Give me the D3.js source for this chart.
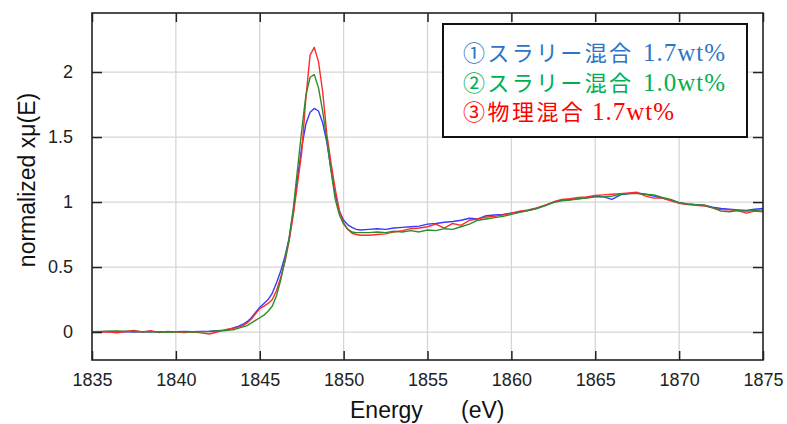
<!DOCTYPE html>
<html>
  <head>
    <meta charset="utf-8">
    <title>normalized xμ(E)</title>
    <script src="https://cdn.jsdelivr.net/npm/d3@7"></script>
    <style>
      body { margin: 0; background: #fff; }
      svg { display: block; }
      .tick text { font-family: "Liberation Sans", Arial, sans-serif; }
    </style>
  </head>

  <body>
    <svg id="chart" width="787" height="424"></svg>

    <script>
      // data
      const energy = [
        1835, 1835.5, 1836, 1836.5, 1837, 1837.5, 1838, 1838.5, 1839, 1839.5, 1840, 1840.5, 1841, 1841.5, 1842, 1842.5, 1843,
        1843.25, 1843.5, 1843.75, 1844, 1844.25, 1844.5, 1844.75, 1845, 1845.25, 1845.5, 1845.75, 1846, 1846.25, 1846.5, 1846.75, 1847,
        1847.25, 1847.5, 1847.75, 1848, 1848.25, 1848.5, 1848.75, 1849, 1849.25, 1849.5, 1849.75, 1850, 1850.25, 1850.5, 1850.75, 1851,
        1851.5, 1852, 1852.5, 1853, 1853.5, 1854, 1854.5, 1855, 1855.5, 1856, 1856.5, 1857, 1857.5, 1858, 1858.5, 1859,
        1859.5, 1860, 1860.5, 1861, 1861.5, 1862, 1862.5, 1863, 1863.5, 1864, 1864.5, 1865, 1865.5, 1866, 1866.5, 1867,
        1867.5, 1868, 1868.5, 1869, 1869.5, 1870, 1870.5, 1871, 1871.5, 1872, 1872.5, 1873, 1873.5, 1874, 1874.5, 1875
      ];
      const slurry17 = [
        0, 0.003, 0.005, 0.002, 0.004, 0, 0.003, 0.001, 0.002, 0, 0.003, 0.004, 0.002, 0.005, 0.006, 0.01, 0.015,
        0.025, 0.035, 0.045, 0.06, 0.08, 0.11, 0.15, 0.19, 0.22, 0.25, 0.30, 0.38, 0.47, 0.58, 0.72, 0.93,
        1.18, 1.42, 1.60, 1.69, 1.72, 1.70, 1.61, 1.46, 1.25, 1.06, 0.93, 0.86, 0.825, 0.805, 0.79, 0.785,
        0.79, 0.795, 0.79, 0.80, 0.805, 0.81, 0.815, 0.83, 0.835, 0.845, 0.85, 0.86, 0.875, 0.87, 0.895, 0.90,
        0.905, 0.915, 0.925, 0.935, 0.95, 0.975, 1.0, 1.015, 1.02, 1.025, 1.035, 1.045, 1.04, 1.02, 1.055, 1.065,
        1.07, 1.06, 1.045, 1.03, 1.015, 0.995, 0.985, 0.98, 0.975, 0.96, 0.95, 0.945, 0.94, 0.935, 0.945, 0.95
      ];
      const slurry10 = [
        0.002, 0.005, 0.006, 0.008, 0.005, 0.004, 0.002, 0.003, 0, -0.002, 0.002, 0.001, 0, 0.002, 0.004, 0.008, 0.012,
        0.015, 0.02, 0.03, 0.04, 0.05, 0.07, 0.09, 0.11, 0.13, 0.16, 0.20, 0.28, 0.40, 0.55, 0.72, 0.95,
        1.25, 1.55, 1.82, 1.96, 1.98, 1.88, 1.70, 1.48, 1.24, 1.02, 0.90, 0.83, 0.79, 0.77, 0.765, 0.765,
        0.765, 0.77, 0.765, 0.775, 0.77, 0.78, 0.77, 0.785, 0.78, 0.795, 0.79, 0.81, 0.83, 0.86, 0.87, 0.88,
        0.89, 0.905, 0.92, 0.935, 0.95, 0.97, 0.995, 1.01, 1.015, 1.025, 1.03, 1.04, 1.04, 1.045, 1.06, 1.065,
        1.065, 1.06, 1.055, 1.035, 1.02, 0.995, 0.985, 0.98, 0.975, 0.955, 0.93, 0.925, 0.935, 0.93, 0.935, 0.94
      ];
      const physical17 = [
        0, 0.002, 0, -0.005, 0.004, 0.012, 0, 0.011, -0.004, 0.004, 0, -0.003, 0.002, -0.006, -0.015, 0.002, 0.02,
        0.025, 0.03, 0.04, 0.05, 0.07, 0.10, 0.14, 0.18, 0.20, 0.22, 0.25, 0.32, 0.42, 0.54, 0.70, 0.90,
        1.14, 1.38, 1.80, 2.13, 2.19, 2.08, 1.85, 1.52, 1.30, 1.10, 0.93, 0.84, 0.79, 0.76, 0.75, 0.745,
        0.745, 0.75, 0.755, 0.77, 0.78, 0.795, 0.80, 0.81, 0.83, 0.80, 0.835, 0.82, 0.86, 0.87, 0.885, 0.89,
        0.90, 0.915, 0.93, 0.94, 0.955, 0.975, 1.0, 1.02, 1.025, 1.035, 1.04, 1.05, 1.055, 1.06, 1.065, 1.07,
        1.075, 1.045, 1.03, 1.03, 1.01, 0.99, 0.98, 0.975, 0.97, 0.955, 0.94, 0.94, 0.935, 0.915, 0.93, 0.925
      ];
      const legendNames = ["①スラリー混合", "②スラリー混合", "③物理混合"];
      const legendAmounts = ["1.7wt%", "1.0wt%", "1.7wt%"];
      const xTicks = [1835, 1840, 1845, 1850, 1855, 1860, 1865, 1870, 1875];
      const yTicks = [0, 0.5, 1, 1.5, 2];

      // layout
      const svg = d3.select("#chart");
      const plotLeft = 92, plotRight = 763, plotTop = 13, plotBottom = 360;

      const x = d3.scaleLinear().domain([1835, 1875]).range([plotLeft, plotRight]);
      const y = d3.scaleLinear().domain([-0.215, 2.454]).range([plotBottom, plotTop]);

      // grid
      svg.append("g")
        .selectAll("line")
        .data(xTicks.slice(1, -1))
        .join("line")
          .attr("x1", d => x(d)).attr("x2", d => x(d))
          .attr("y1", plotTop).attr("y2", plotBottom)
          .style("stroke", "#d6d6d6").style("stroke-width", 1.3);
      svg.append("g")
        .selectAll("line")
        .data(yTicks)
        .join("line")
          .attr("x1", plotLeft).attr("x2", plotRight)
          .attr("y1", d => y(d)).attr("y2", d => y(d))
          .style("stroke", "#d6d6d6").style("stroke-width", 1.3);

      // curves
      const line = d3.line()
        .x((d, i) => x(energy[i]))
        .y(d => y(d));
      const series = [
        { values: slurry17, colour: "#3a3aff" },
        { values: physical17, colour: "#ff2b2b" },
        { values: slurry10, colour: "#2e8b2e" }
      ];
      svg.append("g")
        .selectAll("path")
        .data(series)
        .join("path")
          .attr("d", d => line(d.values))
          .style("fill", "none")
          .style("stroke", d => d.colour)
          .style("stroke-width", 1.4)
          .style("stroke-linejoin", "round");

      // axes: ticks point inwards on every side
      const tickStyle = g => {
        g.select(".domain").remove();
        g.selectAll(".tick line").style("stroke", "#222").style("stroke-width", 1.5);
        g.selectAll(".tick text").style("fill", "#222").style("font-size", "18px");
      };
      svg.append("g")
        .attr("transform", "translate(0," + plotBottom + ")")
        .call(d3.axisBottom(x).tickValues(xTicks).tickFormat(d3.format("d")).tickSizeInner(-9).tickPadding(13))
        .call(tickStyle);
      svg.append("g")
        .attr("transform", "translate(0," + plotTop + ")")
        .call(d3.axisTop(x).tickValues(xTicks).tickFormat("").tickSizeInner(-9))
        .call(tickStyle);
      svg.append("g")
        .attr("transform", "translate(" + plotLeft + ",0)")
        .call(d3.axisLeft(y).tickValues(yTicks).tickFormat(d3.format("")).tickSizeInner(-10).tickPadding(19))
        .call(tickStyle);
      svg.append("g")
        .attr("transform", "translate(" + plotRight + ",0)")
        .call(d3.axisRight(y).tickValues(yTicks).tickFormat("").tickSizeInner(-10))
        .call(tickStyle);

      // frame
      svg.append("rect")
        .attr("x", plotLeft).attr("y", plotTop)
        .attr("width", plotRight - plotLeft).attr("height", plotBottom - plotTop)
        .style("fill", "none").style("stroke", "#222").style("stroke-width", 1.6);

      // axis titles
      svg.append("text")
        .attr("transform", "translate(35,180) rotate(-90)")
        .attr("text-anchor", "middle")
        .style("font-family", "'Liberation Sans', Arial, sans-serif")
        .style("font-size", "23px")
        .style("fill", "#111")
        .text("normalized xμ(E)");
      const title = svg.append("text")
        .attr("y", 418)
        .style("font-family", "'Liberation Sans', Arial, sans-serif")
        .style("font-size", "23px")
        .style("fill", "#111");
      title.append("tspan").attr("x", 350).text("Energy");
      title.append("tspan").attr("x", 461).text("(eV)");

      // legend
      svg.append("rect")
        .attr("x", 443).attr("y", 24)
        .attr("width", 304).attr("height", 113)
        .style("fill", "#fff").style("stroke", "#111").style("stroke-width", 2);
      const legendColours = ["#2e75c6", "#00b050", "#ff0000"];
      const amountX = [643, 643, 592];
      const legend = svg.append("g")
        .selectAll("text")
        .data(legendNames)
        .join("text")
          .attr("y", (d, i) => 61 + i * 29.5)
          .style("fill", (d, i) => legendColours[i]);
      legend.append("tspan")
        .attr("x", 463)
        .style("font-family", "'Noto Sans CJK JP', sans-serif")
        .style("font-size", "22px")
        .attr("textLength", (d, i) => i < 2 ? 168 : 120)
        .text(d => d);
      legend.append("tspan")
        .attr("x", (d, i) => amountX[i])
        .style("font-family", "'Liberation Serif', serif")
        .style("font-size", "25px")
        .attr("textLength", 82)
        .text((d, i) => legendAmounts[i]);
    </script>
  </body>
</html>
